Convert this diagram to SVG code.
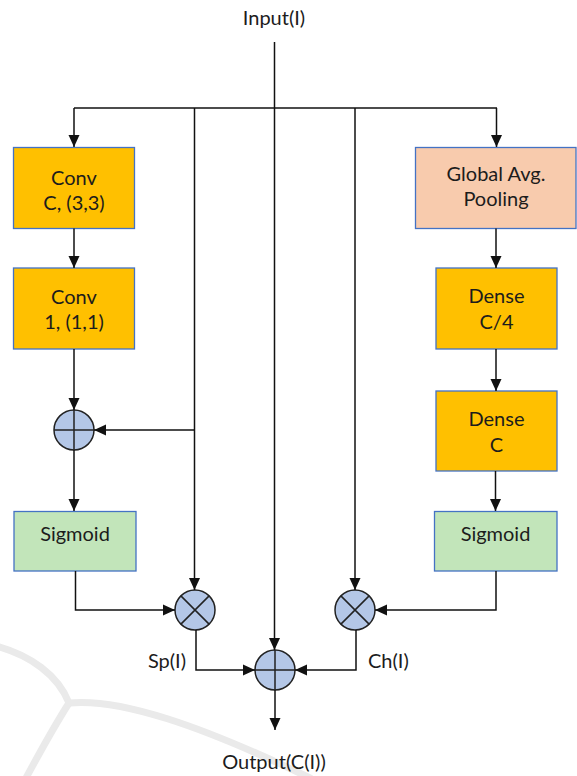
<svg xmlns="http://www.w3.org/2000/svg" width="577" height="776" viewBox="0 0 577 776">
<style>
  .lbl { font-family: Lato, "Open Sans", "Liberation Sans", sans-serif; font-size: 20px; fill: #1c1c1c; text-anchor: middle; }
  .box { stroke: #4472C4; stroke-width: 1.3; }
  .orange { fill: #FFC000; }
  .peach { fill: #F8CBAD; }
  .green { fill: #C2E5BA; }
  .op circle { fill: #B4C7E7; stroke: #222; stroke-width: 1.5; }
  .op path { stroke: #222; stroke-width: 1.5; fill: none; }
  .conn path { fill: none; stroke: #111; stroke-width: 1.5; }
  .wm path { fill: none; stroke: #EAEAEA; stroke-width: 7; stroke-linecap: round; }
</style>
<defs>
  <marker id="arr" markerUnits="userSpaceOnUse" markerWidth="12" markerHeight="12" viewBox="0 0 12 12" refX="12" refY="6" orient="auto">
    <path d="M0,0.5 L12,6 L0,11.5 Z" fill="#111"/>
  </marker>
</defs>
<rect width="577" height="776" fill="#ffffff"/>
<g class="wm">
  <path d="M -4,646 C 30,655 58,675 69,703"/>
  <path d="M 69,703 C 120,698 200,725 310,778"/>
  <path d="M 69,703 C 55,725 40,752 26,778"/>
</g>
<g id="input"><text class="lbl" x="274" y="25">Input(I)</text></g>
<g id="output"><text class="lbl" x="274" y="769">Output(C(I))</text></g>
<g id="conv1">
  <rect class="box orange" x="13.5" y="147.5" width="121" height="81"/>
  <text class="lbl" x="74" y="185">Conv</text>
  <text class="lbl" x="74" y="210">C, (3,3)</text>
</g>
<g id="conv2">
  <rect class="box orange" x="13.5" y="268" width="121" height="81"/>
  <text class="lbl" x="74" y="304">Conv</text>
  <text class="lbl" x="74" y="329">1, (1,1)</text>
</g>
<g id="sigmoid-left">
  <rect class="box green" x="14" y="511.5" width="122" height="59.5"/>
  <text class="lbl" x="75" y="541">Sigmoid</text>
</g>
<g id="gap">
  <rect class="box peach" x="415.5" y="147.5" width="160.5" height="81"/>
  <text class="lbl" x="496" y="181">Global Avg.</text>
  <text class="lbl" x="496" y="206">Pooling</text>
</g>
<g id="dense1">
  <rect class="box orange" x="436" y="268" width="121" height="81"/>
  <text class="lbl" x="496.5" y="303">Dense</text>
  <text class="lbl" x="496.5" y="329">C/4</text>
</g>
<g id="dense2">
  <rect class="box orange" x="436" y="391" width="121" height="80"/>
  <text class="lbl" x="496.5" y="426">Dense</text>
  <text class="lbl" x="496.5" y="452">C</text>
</g>
<g id="sigmoid-right">
  <rect class="box green" x="434.5" y="511.5" width="122.5" height="59.5"/>
  <text class="lbl" x="495.5" y="541">Sigmoid</text>
</g>
<g id="add-left" class="op">
  <circle cx="74" cy="430" r="20"/>
  <path d="M54,430 H94 M74,410 V450"/>
</g>
<g id="mul-left" class="op">
  <circle cx="195" cy="610" r="20"/>
  <path d="M180.9,595.9 L209.1,624.1 M209.1,595.9 L180.9,624.1"/>
</g>
<g id="mul-right" class="op">
  <circle cx="355" cy="610" r="20"/>
  <path d="M340.9,595.9 L369.1,624.1 M369.1,595.9 L340.9,624.1"/>
</g>
<g id="add-out" class="op">
  <circle cx="275" cy="670" r="20"/>
  <path d="M255,670 H295 M275,650 V690"/>
</g>
<g id="labels">
  <text class="lbl" x="186" y="668" style="text-anchor:end">Sp(I)</text>
  <text class="lbl" x="368" y="668" style="text-anchor:start">Ch(I)</text>
</g>
<g class="conn" id="connectors">
  <path d="M274.5,42 V650" marker-end="url(#arr)"/>
  <path d="M74,108 H497"/>
  <path d="M74,108 V147" marker-end="url(#arr)"/>
  <path d="M496.5,108 V147" marker-end="url(#arr)"/>
  <path d="M194.5,108 V590" marker-end="url(#arr)"/>
  <path d="M355,108 V590" marker-end="url(#arr)"/>
  <path d="M74,228.5 V268" marker-end="url(#arr)"/>
  <path d="M74,349 V410" marker-end="url(#arr)"/>
  <path d="M194.5,430 H94" marker-end="url(#arr)"/>
  <path d="M74,450 V511" marker-end="url(#arr)"/>
  <path d="M75.5,571 V610 H175" marker-end="url(#arr)"/>
  <path d="M496,228.5 V268" marker-end="url(#arr)"/>
  <path d="M496,349 V391" marker-end="url(#arr)"/>
  <path d="M495.5,471 V511" marker-end="url(#arr)"/>
  <path d="M496,571 V610 H375" marker-end="url(#arr)"/>
  <path d="M196,630 V670 H255" marker-end="url(#arr)"/>
  <path d="M356,630 V670 H295" marker-end="url(#arr)"/>
  <path d="M275,690 V730" marker-end="url(#arr)"/>
</g>
</svg>
